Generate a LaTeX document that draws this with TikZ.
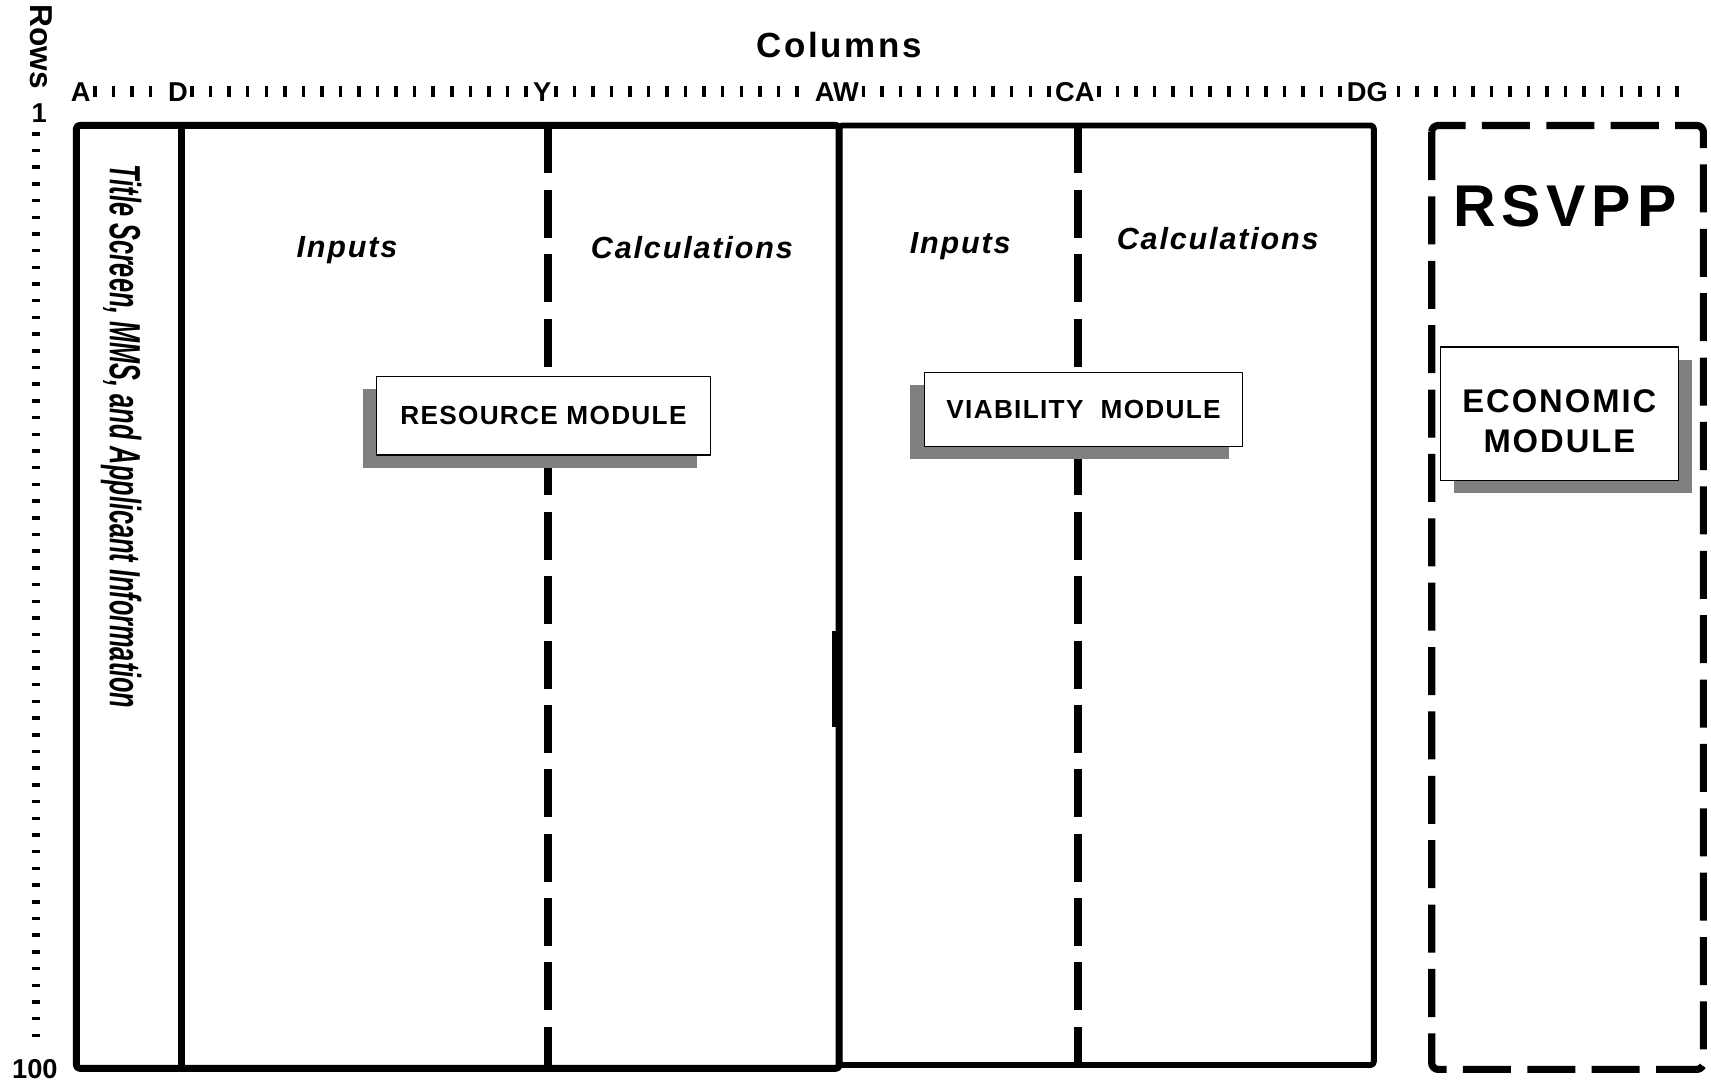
\documentclass[tikz,border=0pt]{standalone}
\usepackage{fontspec}
\setmainfont{Liberation Sans}
\usepackage{graphicx}
\usetikzlibrary{calc,positioning,shadows}

\begin{document}
\begin{tikzpicture}[x=0.5pt,y=-0.5pt,line join=round,
  frame/.style={line width=3.2pt},
  split/.style={line width=3.5pt,dash pattern=on 22pt off 7.5pt},
  ruler/.style={line width=5pt,dash pattern=on 1.6pt off 6.9pt,shorten <=3pt,shorten >=3pt},
  vruler/.style={line width=3.5pt,dash pattern=on 1.6pt off 6.05pt},
  collbl/.style={font=\bfseries\fontsize{12.5}{12.5}\selectfont,inner sep=1pt},
  part/.style={font=\bfseries\itshape\fontsize{14}{14}\selectfont\addfontfeature{LetterSpace=6}},
  modbox/.style={draw,line width=0.5pt,fill=white,align=center,inner sep=0pt,
    font=\bfseries\fontsize{12}{12}\selectfont\addfontfeature{LetterSpace=5}},
  modshade/.style={general shadow={fill=black!50,shadow xshift=#1,shadow yshift=-5.75pt}}]
\useasboundingbox (0,0) rectangle (1568,994);
% --- axis titles
\node[font=\bfseries\fontsize{16}{16}\selectfont\addfontfeature{LetterSpace=8}] (cols) at (769,41) {Columns};
\node[rotate=-90,font=\bfseries\fontsize{14.5}{14.5}\selectfont] (rows) at (38,43) {Rows};
% --- column ruler
\node[collbl] (cA) at (74,84) {A};
\node[collbl] (cD) at (163,84) {D};
\node[collbl] (cY) at (497,84) {Y};
\node[collbl] (cAW) at (767,84) {AW};
\node[collbl] (cCA) at (985,84) {CA};
\node[collbl] (cDG) at (1253,84) {DG};
\coordinate (cEnd) at (1558,84);
\draw[ruler] (cA) -- (cD) (cD) -- (cY) (cY) -- (cAW) (cAW) -- (cCA) (cCA) -- (cDG) (cDG) -- (cEnd);
% --- row ruler
\node[collbl] (r1) at (36,104) {1};
\node[collbl] (r100) at (32,980) {100};
\coordinate (rTop) at (33,121);
\coordinate (rBot) at (33,962);
\draw[vruler] (rTop) -- (rBot);
% --- sheet frame
\draw[frame,rounded corners=1.5pt] (70,115) rectangle (769,979);
\draw[line width=2.7pt,rounded corners=1.5pt] (769,115) rectangle (1259,976);
\draw[frame] (166,115) -- (166,979);
\draw[frame] (765.5,578) -- (765.5,666);
\draw[split] (502,115) -- (502,979);
\draw[split] (988,115) -- (988,976);
\draw[split,line width=3.3pt,rounded corners=3pt] (1312,115) rectangle (1561,980);
% --- section labels
\node[rotate=-90] (title) at (111,400) {\scalebox{0.58}[1]{\bfseries\itshape\fontsize{20}{20}\selectfont Title Screen, MMS, and Applicant Information}};
\node[part] (resIn) at (318,229) {Inputs};
\node[part] (resCalc) at (634,227) {Calculations};
\node[part] (viaIn) at (880,226) {Inputs};
\node[part] (viaCalc) at (1116,219) {Calculations};
\node[font=\bfseries\fontsize{27}{27}\selectfont\addfontfeature{LetterSpace=10}] (rsvpp) at (1434,189) {RSVPP};
% --- modules
\node[modbox,modshade=-6.25pt,minimum width=153pt,minimum height=36pt] (res) at (498,381) {RESOURCE MODULE};
\node[modbox,modshade=-6.5pt,minimum width=146pt,minimum height=34pt] (via) at (993,375) {VIABILITY\ \ MODULE};
\node[modbox,modshade=6.25pt,minimum width=109pt,minimum height=61pt,text height=36pt,
  font=\bfseries\fontsize{15}{18.5}\selectfont\addfontfeature{LetterSpace=6}] (eco) at (1429,379) {ECONOMIC\\MODULE};
\end{tikzpicture}
\end{document}
